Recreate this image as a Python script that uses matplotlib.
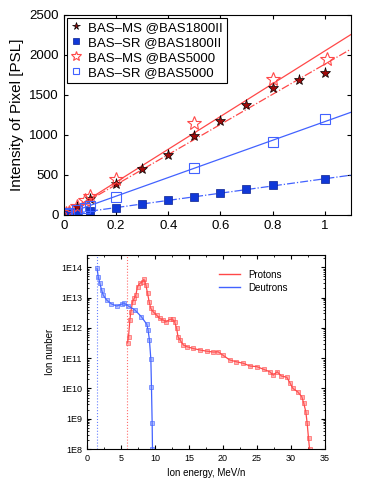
import numpy as np
import matplotlib
matplotlib.use("Agg")
import matplotlib.pyplot as plt
from matplotlib.ticker import AutoMinorLocator, FuncFormatter, LogLocator, NullFormatter

plt.rcParams['font.family'] = ['Liberation Sans', 'DejaVu Sans']

# --- panel (a): pixel intensity vs exposure ---
ms1800_x = [0.01, 0.02, 0.05, 0.1, 0.2, 0.3, 0.4, 0.5, 0.6, 0.7, 0.8, 0.9, 1.0]
ms1800_y = [10, 25, 100, 195, 380, 572, 750, 980, 1170, 1370, 1582, 1677, 1770]
sr1800_x = [0.01, 0.02, 0.05, 0.1, 0.2, 0.3, 0.4, 0.5, 0.6, 0.7, 0.8, 1.0]
sr1800_y = [5, 10, 22, 42, 88, 138, 179, 225, 271, 317, 367, 446]
ms5000_x = [0.01, 0.02, 0.05, 0.08, 0.1, 0.2, 0.5, 0.8, 1.01]
ms5000_y = [20, 40, 112, 187, 229, 446, 1146, 1700, 1946]
sr5000_x = [0.01, 0.02, 0.05, 0.08, 0.1, 0.2, 0.5, 0.8, 1.0]
sr5000_y = [12, 22, 54, 83, 104, 221, 579, 904, 1200]
# slopes of the linear fits (PSL per unit)
fit_ms5000 = 2045
fit_ms1800 = 1880
fit_sr5000 = 1163
fit_sr1800 = 450

# --- panel (b): ion spectra ---
deut_e = [1.5, 1.67, 1.91, 2.16, 2.4, 2.9, 3.6, 4.4, 5.1, 5.5, 6.1, 7.06, 8.0, 8.8,
          9.0, 9.2, 9.41, 9.5, 9.6, 9.65]
deut_log = [13.96, 13.69, 13.47, 13.25, 13.08, 12.92, 12.79, 12.72, 12.78, 12.81,
            12.72, 12.59, 12.37, 12.12, 11.93, 11.6, 10.96, 10.06, 8.87, 8.0]
prot_e = [5.98, 6.13, 6.32, 6.47, 6.72, 6.96, 7.2, 7.45, 7.8, 8.19, 8.38, 8.68, 8.92,
          9.16, 9.4, 9.75, 10.25, 10.7, 11.2, 11.7, 12.2, 12.6, 12.9, 13.2, 13.4,
          13.7, 14.2, 14.7, 15.6, 16.6, 17.6, 18.6, 19.3, 20.0, 21.0, 22.0, 23.0,
          24.0, 25.0, 26.0, 26.9, 27.4, 28.0, 28.6, 29.4, 29.9, 30.3, 31.0, 31.6,
          31.9, 32.2, 32.4, 32.6, 32.75]
prot_log = [11.51, 11.71, 12.26, 12.53, 12.86, 12.97, 13.08, 13.36, 13.47, 13.52,
            13.6, 13.41, 13.14, 12.86, 12.64, 12.53, 12.42, 12.31, 12.26, 12.2,
            12.28, 12.28, 12.2, 11.98, 11.71, 11.6, 11.43, 11.38, 11.32, 11.27,
            11.23, 11.2, 11.21, 11.1, 10.94, 10.88, 10.83, 10.74, 10.72, 10.63,
            10.55, 10.44, 10.55, 10.41, 10.37, 10.17, 10.0, 9.89, 9.73, 9.51,
            9.23, 8.85, 8.35, 8.0]
deut_cut = 1.45
prot_cut = 5.83

red = "#ff4848"
blue = "#4262ff"

fig = plt.figure(figsize=(3.65, 4.86), dpi=100)

# ---------------- top panel ----------------
ax1 = fig.add_axes([0.175, 0.558, 0.786, 0.412])
xf = np.array([0, 1.1])
ax1.plot(xf, fit_ms5000 * xf, '-', color=red, lw=0.9)
ax1.plot(xf, fit_ms1800 * xf, '-.', color=red, lw=0.9)
ax1.plot(xf, fit_sr5000 * xf, '-', color=blue, lw=0.9)
ax1.plot(xf, fit_sr1800 * xf, '-.', color=blue, lw=0.9)

h1, = ax1.plot(ms1800_x, ms1800_y, '*', ms=8, mfc='#a00a0a', mec='black', mew=0.5,
               label='BAS\u2013MS @BAS1800II')
h2, = ax1.plot(sr1800_x, sr1800_y, 's', ms=5.5, mfc='#1038d8', mec='#0a2090', mew=0.5,
               label='BAS\u2013SR @BAS1800II')
h3, = ax1.plot(ms5000_x, ms5000_y, '*', ms=10, mfc='none', mec=red, mew=0.8,
               label='BAS\u2013MS @BAS5000')
h4, = ax1.plot(sr5000_x, sr5000_y, 's', ms=7, mfc='none', mec=blue, mew=0.8,
               label='BAS\u2013SR @BAS5000')

ax1.set_xlim(0, 1.1)
ax1.set_ylim(0, 2500)
ax1.set_xticks([0, 0.2, 0.4, 0.6, 0.8, 1])
ax1.set_xticklabels(['0', '0.2', '0.4', '0.6', '0.8', '1'])
ax1.set_yticks([0, 500, 1000, 1500, 2000, 2500])
ax1.tick_params(direction='in', top=True, right=True, labelsize=9.5, length=3)
ax1.set_ylabel('Intensity of Pixel [PSL]', fontsize=11)
leg = ax1.legend(handles=[h1, h2, h3, h4], loc='upper left', fontsize=9.5,
                 fancybox=False, edgecolor='black', framealpha=1, markerscale=0.7,
                 borderaxespad=0.25, borderpad=0.3, handletextpad=0.5,
                 handlelength=0.8, labelspacing=0.2)
leg.get_frame().set_linewidth(0.8)

# ---------------- bottom panel ----------------
ax2 = fig.add_axes([0.238, 0.076, 0.652, 0.399])
ax2.axvline(deut_cut, color=blue, ls=':', lw=0.8, alpha=0.8)
ax2.axvline(prot_cut, color=red, ls=':', lw=0.8, alpha=0.8)
ax2.plot(prot_e, 10.0 ** np.array(prot_log), '-', color=red, lw=0.9,
         marker='s', ms=2.5, mfc=(1, 0.4, 0.4, 0.5), mec=red, mew=0.4)
ax2.plot(deut_e, 10.0 ** np.array(deut_log), '-', color=blue, lw=0.9,
         marker='s', ms=2.5, mfc=(0.4, 0.5, 1, 0.5), mec=blue, mew=0.4)
ax2.plot([], [], '-', color=red, lw=1, label='Protons')
ax2.plot([], [], '-', color=blue, lw=1, label='Deutrons')

ax2.set_yscale('log')
ax2.set_xlim(0, 35)
ax2.set_ylim(1e8, 2.5e14)
ax2.set_xticks(range(0, 36, 5))
ax2.xaxis.set_minor_locator(AutoMinorLocator(2))
ax2.yaxis.set_major_locator(LogLocator(base=10, numticks=10))
ax2.yaxis.set_minor_locator(LogLocator(base=10, subs=np.arange(2, 10), numticks=10))
ax2.yaxis.set_minor_formatter(NullFormatter())
ax2.yaxis.set_major_formatter(FuncFormatter(lambda v, _: f"1E{int(round(np.log10(v)))}"))
ax2.tick_params(which='both', direction='in', top=True, right=True, labelsize=6.5)
ax2.tick_params(which='major', length=3)
ax2.tick_params(which='minor', length=1.5)
ax2.set_xlabel('Ion energy, MeV/n', fontsize=7)
ax2.set_ylabel('Ion nunber', fontsize=7)
ax2.legend(loc='upper right', bbox_to_anchor=(0.88, 0.97), fontsize=7, frameon=False,
           handlelength=2.2, labelspacing=0.3)

fig.savefig('out.png', dpi=100)
